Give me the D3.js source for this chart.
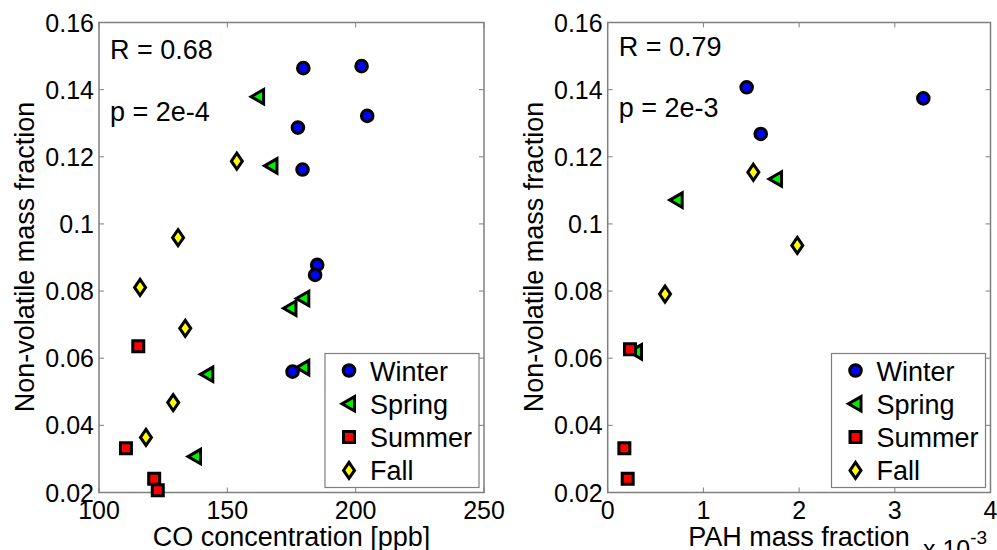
<!DOCTYPE html>
<html lang="en">
  <head>
    <meta charset="UTF-8" />
    <title>Non-volatile mass fraction vs CO and PAH</title>
    <script src="https://d3js.org/d3.v7.min.js"></script>
    <style>
      body { margin: 0; background: #fff; }
      text { font-family: Arial, "Liberation Sans", sans-serif; fill: #000; }
    </style>
  </head>
  <body>
    <svg width="997" height="550"></svg>

    <script>
      // season names and marker colours
      const seasons = ["Winter", "Spring", "Summer", "Fall"];
      const seasonColors = ["#0000ff", "#00ee00", "#ff0000", "#ffff00"];

      // left panel: CO concentration [ppb] vs non-volatile mass fraction
      const coWinterX = [179.6, 202.3, 204.5, 177.5, 179.3, 185.0, 184.2, 175.4];
      const coWinterY = [0.1464, 0.147, 0.1322, 0.1287, 0.1162, 0.0878, 0.0848, 0.056];
      const coSpringX = [162.0, 167.2, 179.6, 174.6, 179.6, 142.2, 137.4];
      const coSpringY = [0.1379, 0.1173, 0.0778, 0.0749, 0.0572, 0.0552, 0.0307];
      const coSummerX = [115.3, 110.5, 121.5, 122.9];
      const coSummerY = [0.0636, 0.0332, 0.0241, 0.0207];
      const coFallX = [153.7, 130.8, 116.0, 133.6, 128.9, 118.3];
      const coFallY = [0.1187, 0.0959, 0.0811, 0.0689, 0.0468, 0.0364];

      // right panel: PAH mass fraction (x 10^-3) vs non-volatile mass fraction
      const pahWinterX = [1.452, 1.599, 3.298];
      const pahWinterY = [0.1407, 0.1268, 0.1374];
      const pahSpringX = [0.721, 1.759, 0.296];
      const pahSpringY = [0.1071, 0.1134, 0.0619];
      const pahSummerX = [0.233, 0.174, 0.209];
      const pahSummerY = [0.0627, 0.0332, 0.0241];
      const pahFallX = [1.522, 1.981, 0.599];
      const pahFallY = [0.1154, 0.0936, 0.0791];

      // tick values
      const yTicks = [0.02, 0.04, 0.06, 0.08, 0.1, 0.12, 0.14, 0.16];
      const coTicks = [100, 150, 200, 250];
      const pahTicks = [0, 1, 2, 3, 4];

      const svg = d3.select("svg");
      const axisColor = "#7f7f7f";

      // marker paths, centred on 0,0 (drawn with a thick black edge)
      const markerPath = {
        Winter: "M-5.8,0a5.8,5.8 0 1,0 11.6,0a5.8,5.8 0 1,0 -11.6,0Z",
        Spring: "M-7,0L5.5,-7.2L5.5,7.2Z",
        Summer: "M-5.5,-5.5L5.5,-5.5L5.5,5.5L-5.5,5.5Z",
        Fall: "M0,-8L5.5,0L0,8L-5.5,0Z",
      };
      const edgeWidth = 3;

      function drawPanel(opt) {
        const g = svg.append("g");
        const x = d3.scaleLinear().domain(opt.xDomain).range([opt.left, opt.right]);
        const y = d3.scaleLinear().domain([0.02, 0.16]).range([492.5, 22.5]);

        // frame
        g.append("rect")
          .attr("x", opt.left)
          .attr("y", 22.5)
          .attr("width", opt.right - opt.left)
          .attr("height", 470)
          .attr("fill", "none")
          .attr("stroke", axisColor)
          .attr("stroke-width", 1.5);

        // ticks inside, on all four sides
        const tl = 5;
        opt.xTicks.forEach((t) => {
          g.append("line").attr("x1", x(t)).attr("x2", x(t)).attr("y1", 492.5).attr("y2", 492.5 - tl)
            .attr("stroke", axisColor);
          g.append("line").attr("x1", x(t)).attr("x2", x(t)).attr("y1", 22.5).attr("y2", 22.5 + tl)
            .attr("stroke", axisColor);
          g.append("text").attr("x", x(t)).attr("y", 519).attr("text-anchor", "middle")
            .attr("font-size", 25).text(t);
        });
        yTicks.forEach((t) => {
          g.append("line").attr("x1", opt.left).attr("x2", opt.left + tl).attr("y1", y(t)).attr("y2", y(t))
            .attr("stroke", axisColor);
          g.append("line").attr("x1", opt.right).attr("x2", opt.right - tl).attr("y1", y(t)).attr("y2", y(t))
            .attr("stroke", axisColor);
          g.append("text").attr("x", opt.left - 5).attr("y", y(t) + 9).attr("text-anchor", "end")
            .attr("font-size", 25).text(String(+t.toFixed(2)));
        });

        // axis labels
        g.append("text").attr("x", (opt.left + opt.right) / 2).attr("y", 546).attr("text-anchor", "middle")
          .attr("font-size", 27).text(opt.xLabel);
        g.append("text")
          .attr("transform", `translate(${opt.left - 65},257) rotate(-90)`)
          .attr("text-anchor", "middle")
          .attr("font-size", 27)
          .text("Non-volatile mass fraction");

        // stats text
        g.append("text").attr("x", opt.left + 11).attr("y", opt.rY).attr("font-size", 27).text(opt.rText);
        g.append("text").attr("x", opt.left + 11).attr("y", opt.pY).attr("font-size", 27).text(opt.pText);

        // points
        opt.series.forEach((s, i) => {
          g.append("g")
            .selectAll("path")
            .data(s.xs.map((v, j) => [v, s.ys[j]]))
            .join("path")
            .attr("d", markerPath[seasons[i]])
            .attr("transform", (d) => `translate(${x(d[0])},${y(d[1])})`)
            .attr("fill", seasonColors[i])
            .attr("stroke", "#000")
            .attr("stroke-width", edgeWidth)
            .attr("stroke-linejoin", "miter");
        });

        // legend
        const lw = 154, lh = 134;
        const lx = opt.right - lw - 5, ly = 492.5 - lh - 5;
        const lg = g.append("g").attr("transform", `translate(${lx},${ly})`);
        lg.append("rect").attr("width", lw).attr("height", lh).attr("fill", "#fff")
          .attr("stroke", axisColor).attr("stroke-width", 1.2);
        seasons.forEach((name, i) => {
          const cy = 17 + i * 33.3;
          lg.append("path").attr("d", markerPath[name])
            .attr("transform", `translate(24,${cy})`)
            .attr("fill", seasonColors[i]).attr("stroke", "#000").attr("stroke-width", edgeWidth);
          lg.append("text").attr("x", 45).attr("y", cy + 10).attr("font-size", 27).text(name);
        });

        return g;
      }

      drawPanel({
        left: 99, right: 484, xDomain: [100, 250], xTicks: coTicks,
        xLabel: "CO concentration [ppb]",
        rText: "R = 0.68", pText: "p = 2e-4", rY: 59, pY: 121,
        series: [
          { xs: coWinterX, ys: coWinterY },
          { xs: coSpringX, ys: coSpringY },
          { xs: coSummerX, ys: coSummerY },
          { xs: coFallX, ys: coFallY },
        ],
      });

      const right = drawPanel({
        left: 607.7, right: 990.5, xDomain: [0, 4], xTicks: pahTicks,
        xLabel: "PAH mass fraction",
        rText: "R = 0.79", pText: "p = 2e-3", rY: 56, pY: 117,
        series: [
          { xs: pahWinterX, ys: pahWinterY },
          { xs: pahSpringX, ys: pahSpringY },
          { xs: pahSummerX, ys: pahSummerY },
          { xs: pahFallX, ys: pahFallY },
        ],
      });

      // exponent for the PAH axis
      const ex = right.append("text").attr("x", 923).attr("y", 558).attr("font-size", 25);
      ex.append("tspan").text("x 10");
      ex.append("tspan").attr("dy", -14).attr("font-size", 19).text("-3");
    </script>
  </body>
</html>
